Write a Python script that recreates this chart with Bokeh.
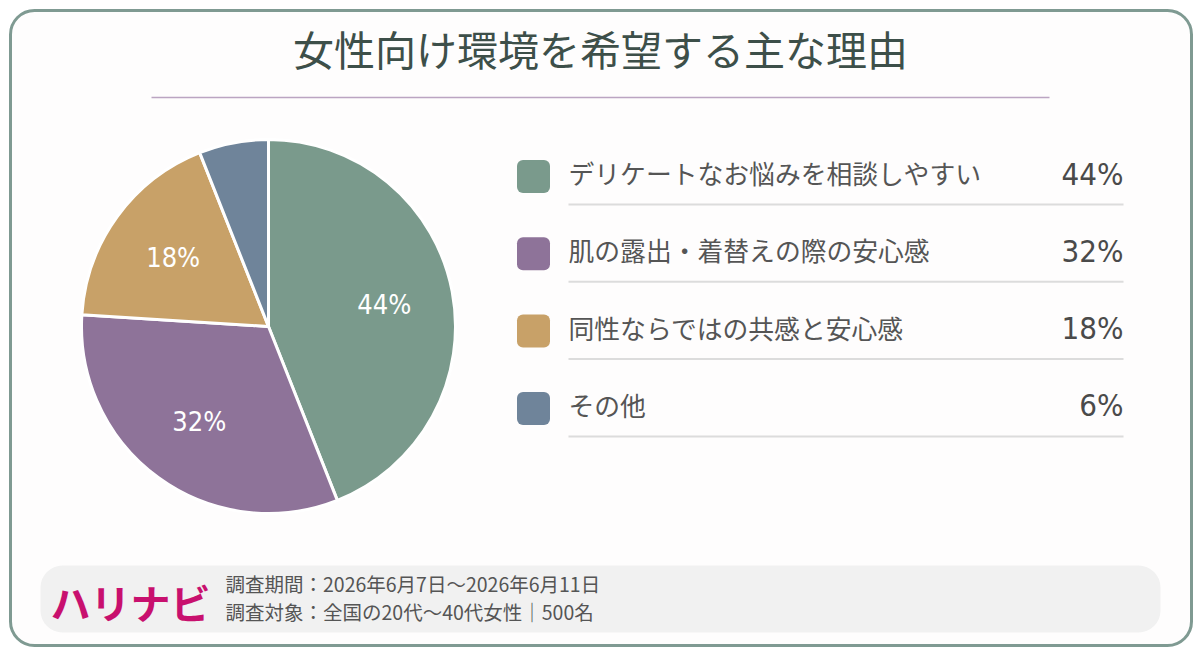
import numpy as np
from bokeh.plotting import figure
from bokeh.models import BoxAnnotation, Range1d
from bokeh.core.properties import value
from bokeh.embed import file_html
from bokeh.resources import INLINE

# chart data
title = "女性向け環境を希望する主な理由"
reasons = [
    "デリケートなお悩みを相談しやすい",
    "肌の露出・着替えの際の安心感",
    "同性ならではの共感と安心感",
    "その他",
]
shares = [44, 32, 18, 6]
colors = ["#7a9a8c", "#8e7399", "#c8a168", "#6f849a"]
brand = "ハリナビ"
notes = [
    "調査期間：2026年6月7日～2026年6月11日",
    "調査対象：全国の20代～40代女性｜500名",
]

JP = value("Noto Sans CJK JP")
NARROW = value("'DejaVu Sans Condensed', 'Liberation Sans Narrow', Roboto, sans-serif")

W, H = 1200, 654


def X(ix):
    # page pixel -> data x
    return ix


def Y(iy):
    # page pixel -> data y (y goes up in bokeh)
    return H - iy


p = figure(width=W, height=H, x_range=Range1d(0, W), y_range=Range1d(0, H),
           output_backend="svg", toolbar_location=None, min_border=0)
p.axis.visible = False
p.grid.visible = False
p.outline_line_color = None
p.background_fill_color = "white"
p.border_fill_color = "white"

# card and footer band
p.add_layout(BoxAnnotation(left=X(10), right=X(1191), top=Y(10), bottom=Y(645),
                           border_radius=24, fill_color="#fefdfd", fill_alpha=1,
                           line_color="#7f9a92", line_alpha=1, line_width=3,
                           level="underlay"))
p.add_layout(BoxAnnotation(left=X(40), right=X(1160), top=Y(565), bottom=Y(632),
                           border_radius=22, fill_color="#f1f1f1", fill_alpha=1,
                           line_color=None, level="underlay"))

# title
p.text(x=[X(600)], y=[Y(47)], text=[title], text_font=JP, text_font_size="41px",
       text_color="#3d4f49", text_align="center", text_baseline="middle")
p.segment(x0=[X(151)], x1=[X(1049)], y0=[Y(97)], y1=[Y(97)],
          line_color="#bba5c2", line_width=1.5)

# pie, clockwise from 12 o'clock
frac = np.array(shares) / sum(shares)
cum = np.cumsum(frac)
start = cum - frac
cx, cy, r = X(268), Y(326), 187
p.wedge(x=cx, y=cy, radius=r,
        start_angle=list(np.pi / 2 - cum * 2 * np.pi),
        end_angle=list(np.pi / 2 - start * 2 * np.pi),
        fill_color=colors, line_color="white", line_width=3)

mid = np.pi / 2 - (start + frac / 2) * 2 * np.pi
big = frac >= 0.1
p.text(x=list(cx + 0.63 * r * np.cos(mid[big])), y=list(cy + 0.63 * r * np.sin(mid[big])),
       text=[f"{s}%" for s, b in zip(shares, big) if b],
       text_font=NARROW, text_font_size="27px", text_color="white",
       text_align="center", text_baseline="middle")

# legend table
row = [Y(176 + 77.3 * i) for i in range(len(reasons))]
p.rect(x=[X(533)] * len(reasons), y=row, width=33, height=33,
       fill_color=colors, line_color=None, border_radius=6)
p.text(x=[X(568)] * len(reasons), y=[v + 4 for v in row], text=reasons,
       text_font=JP, text_font_size="25.8px", text_color="#555555",
       text_align="left", text_baseline="middle")
p.text(x=[X(1123)] * len(reasons), y=[v + 3 for v in row], text=[f"{s}%" for s in shares],
       text_font=NARROW, text_font_size="31px", text_color="#4a4a4a",
       text_align="right", text_baseline="middle")
p.segment(x0=[X(568)] * len(reasons), x1=[X(1123)] * len(reasons),
          y0=[v - 28 for v in row], y1=[v - 28 for v in row],
          line_color="#dcdcdc", line_width=2)

# footer
p.text(x=[X(50)], y=[Y(601)], text=[brand], text_font=JP, text_font_size="40px",
       text_font_style="bold", text_color="#c8106e",
       text_align="left", text_baseline="middle")
p.text(x=[X(225)] * 2, y=[Y(583), Y(611)], text=notes, text_font=JP,
       text_font_size="19.5px", text_color="#555555",
       text_align="left", text_baseline="middle")

open("out.html", "w", encoding="utf-8").write(file_html(p, INLINE))
